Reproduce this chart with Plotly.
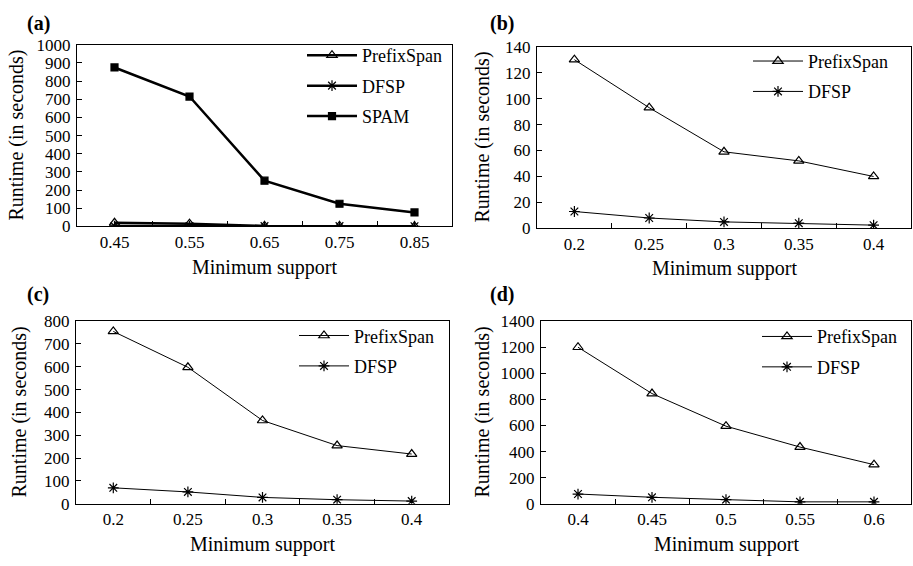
import plotly.graph_objects as go

# ---- data ----
x_a = ["0.45", "0.55", "0.65", "0.75", "0.85"]
a_prefixspan = [20, 15, 3, 3, 1]
a_dfsp = [2, 2, 2, 2, 1]
a_spam = [875, 715, 252, 125, 77]

x_b = ["0.2", "0.25", "0.3", "0.35", "0.4"]
b_prefixspan = [130, 93, 59, 52, 40]
b_dfsp = [13, 8, 5, 4, 2.5]

x_c = ["0.2", "0.25", "0.3", "0.35", "0.4"]
c_prefixspan = [755, 598, 365, 255, 218]
c_dfsp = [70, 52, 28, 18, 12]

x_d = ["0.4", "0.45", "0.5", "0.55", "0.6"]
d_prefixspan = [1200, 845, 595, 435, 300]
d_dfsp = [75, 50, 32, 15, 15]

panel_labels = ["(a)", "(b)", "(c)", "(d)"]
y_title = "Runtime (in seconds)"
x_title = "Minimum support"

W, H = 913, 566
FONT = "Liberation Serif"

def px_x(p):
    return p / W

def px_y(p):
    return 1 - p / H

# pixel boxes (left, right, top, bottom)
boxes = {
    "a": (77, 452, 37, 225),
    "b": (537, 911, 39, 227),
    "c": (76, 449, 323, 512),
    "d": (541, 911, 323, 512),
}
yranges = {"a": (1000, 100), "b": (140, 20), "c": (800, 100), "d": (1400, 200)}

fig = go.Figure()

def add(xv, yv, name, symbol, axis_idx, legend, width, msize):
    xa = "x" if axis_idx == 1 else f"x{axis_idx}"
    ya = "y" if axis_idx == 1 else f"y{axis_idx}"
    fig.add_trace(go.Scatter(
        x=xv, y=yv, name=name, mode="lines+markers",
        line=dict(color="black", width=width),
        marker=dict(symbol=symbol, size=msize, color="black",
                    line=dict(color="black", width=1.2)),
        xaxis=xa, yaxis=ya, legend=legend, legendgroup=f"{legend}-{name}",
    ))

add(x_a, a_prefixspan, "PrefixSpan", "triangle-up-open", 1, "legend", 2.5, 9)
add(x_a, a_dfsp, "DFSP", "asterisk-open", 1, "legend", 2.5, 9)
add(x_a, a_spam, "SPAM", "square", 1, "legend", 2.5, 7)

add(x_b, b_prefixspan, "PrefixSpan", "triangle-up-open", 2, "legend2", 1, 9)
add(x_b, b_dfsp, "DFSP", "asterisk-open", 2, "legend2", 1, 9)

add(x_c, c_prefixspan, "PrefixSpan", "triangle-up-open", 3, "legend3", 1, 9)
add(x_c, c_dfsp, "DFSP", "asterisk-open", 3, "legend3", 1, 9)

add(x_d, d_prefixspan, "PrefixSpan", "triangle-up-open", 4, "legend4", 1, 9)
add(x_d, d_dfsp, "DFSP", "asterisk-open", 4, "legend4", 1, 9)

layout = dict(
    width=W, height=H,
    margin=dict(l=0, r=0, t=0, b=0),
    paper_bgcolor="white", plot_bgcolor="white",
    font=dict(family=FONT, size=16, color="black"),
)

annotations = []
legend_pos = {"a": (302, 29), "b": (748, 35), "c": (294, 319), "d": (757, 320)}
lab_pos = {"a": (25, 15), "b": (488, 15), "c": (25, 295), "d": (488, 295)}
ytitle_x = {"a": 17, "b": 483, "c": 19, "d": 482}

for i, key in enumerate(["a", "b", "c", "d"], start=1):
    l, r, t, b = boxes[key]
    ymax, dt = yranges[key]
    xname = "xaxis" if i == 1 else f"xaxis{i}"
    yname = "yaxis" if i == 1 else f"yaxis{i}"
    anchor_x = "x" if i == 1 else f"x{i}"
    anchor_y = "y" if i == 1 else f"y{i}"
    layout[xname] = dict(
        domain=[px_x(l), px_x(r)], anchor=anchor_y, type="category",
        range=[-0.5, 4.5], showline=True, linecolor="black", linewidth=1,
        mirror=True, ticks="inside", ticklen=5, tickcolor="black",
        tickson="boundaries", showgrid=False, zeroline=False,
        tickfont=dict(family=FONT, size=17), fixedrange=True,
    )
    layout[yname] = dict(
        domain=[px_y(b), px_y(t)], anchor=anchor_x,
        range=[0, ymax], dtick=dt, tick0=0, showline=True, linecolor="black",
        linewidth=1, mirror=True, ticks="inside", ticklen=5, tickcolor="black",
        showgrid=False, zeroline=False, tickfont=dict(family=FONT, size=17),
        ticklabelstandoff=2,
    )
    lname = "legend" if i == 1 else f"legend{i}"
    lx, ly = legend_pos[key]
    layout[lname] = dict(
        x=px_x(lx), y=px_y(ly), xanchor="left", yanchor="top",
        xref="paper", yref="paper", bgcolor="rgba(0,0,0,0)",
        font=dict(family=FONT, size=18), itemwidth=50, tracegroupgap=4,
        traceorder="grouped",
    )
    lab_x, lab_y = lab_pos[key]
    annotations.append(dict(
        text=f"<b>{panel_labels[i-1]}</b>", x=px_x(lab_x), y=px_y(lab_y),
        xref="paper", yref="paper", showarrow=False, xanchor="left",
        yanchor="middle", font=dict(family=FONT, size=20),
    ))
    annotations.append(dict(
        text=y_title, x=px_x(ytitle_x[key]), y=px_y((t + b) / 2),
        xref="paper", yref="paper", showarrow=False, textangle=-90,
        xanchor="center", yanchor="middle", font=dict(family=FONT, size=20),
    ))
    annotations.append(dict(
        text=x_title, x=px_x((l + r) / 2), y=px_y(b + 42), xref="paper",
        yref="paper", showarrow=False, xanchor="center", yanchor="middle",
        font=dict(family=FONT, size=20),
    ))

layout["annotations"] = annotations
fig.update_layout(**layout)

fig.write_html("out.html")
